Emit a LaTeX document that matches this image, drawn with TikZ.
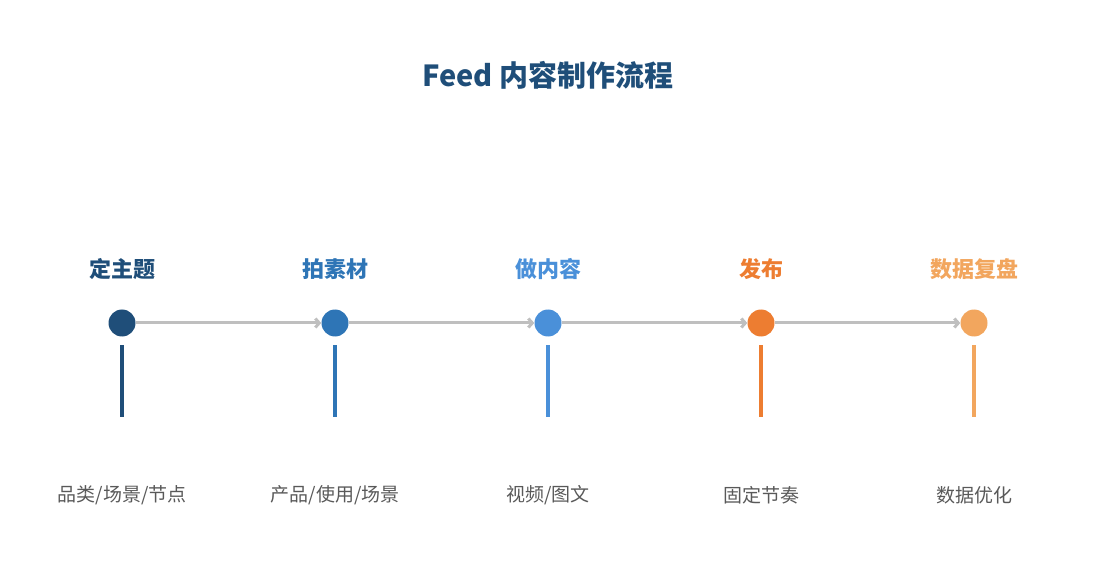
\documentclass[tikz,border=0pt]{standalone}
\usepackage{fontspec}
\setmainfont{Noto Sans CJK SC}
\usetikzlibrary{arrows.meta}
\definecolor{c1}{HTML}{1F4E79}
\definecolor{c2}{HTML}{2E75B6}
\definecolor{c3}{HTML}{4A90D9}
\definecolor{c4}{HTML}{ED7D31}
\definecolor{c5}{HTML}{F2A65E}
\definecolor{ln}{HTML}{BFBFBF}
\begin{document}
\begin{tikzpicture}[x=1pt,y=-1pt,
  dot/.style={circle,fill=#1,minimum size=27pt,inner sep=0pt},
  head/.style={text=#1,font=\bfseries\fontsize{22pt}{26pt}\selectfont},
  sub/.style={text=black!65,font=\fontsize{19pt}{22pt}\selectfont},
  conn/.style={draw=ln,line width=3pt,-{Straight Barb[length=4pt,width=9pt]}},
  stem/.style={draw=#1,line width=3.5pt}]
\useasboundingbox (0,0) rectangle (1095,585);
\node[text=c1,font=\bfseries\fontsize{29pt}{34pt}\selectfont] (t) at (548,75) {Feed 内容制作流程};
\foreach \i/\x/\c/\h/\s in {1/122/c1/定主题/{品类/场景/节点},2/335/c2/拍素材/{产品/使用/场景},3/548/c3/做内容/{视频/图文},4/761/c4/发布/固定节奏,5/974/c5/数据复盘/数据优化}{
  \node[dot=\c] (d\i) at (\x,323) {};
  \node[head=\c] (h\i) at (\x,269) {\h};
  \node[sub] (s\i) at (\x,495) {\s};
  \coordinate (a\i) at (\x,345);
  \coordinate (b\i) at (\x,417);
  \draw[stem=\c] (a\i) -- (b\i);
}
\foreach \i/\j in {1/2,2/3,3/4,4/5}{\draw[conn] (d\i) -- (d\j);}
\end{tikzpicture}
\end{document}
